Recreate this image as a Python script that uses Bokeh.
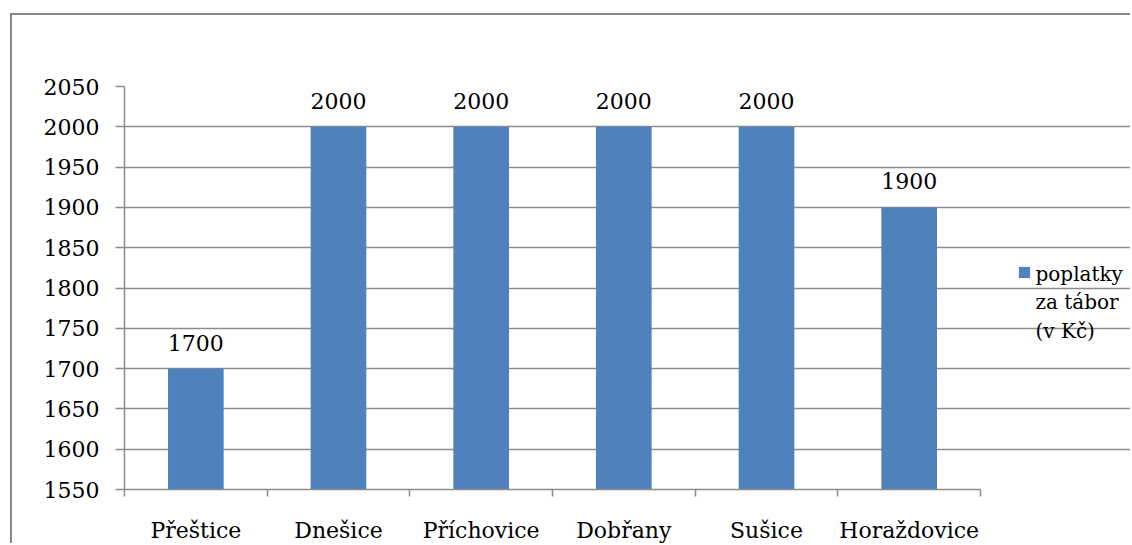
from bokeh.plotting import figure
from bokeh.models import (ColumnDataSource, FixedTicker, Legend, LegendItem, Range1d, Label)
from bokeh.embed import file_html
from bokeh.resources import INLINE
from bokeh.core.properties import value

# ---- data ----
categories = ["Přeštice", "Dnešice", "Příchovice", "Dobřany", "Sušice", "Horaždovice"]
fees = [1700, 2000, 2000, 2000, 2000, 1900]
y_ticks = [1550, 1600, 1650, 1700, 1750, 1800, 1850, 1900, 1950, 2000, 2050]
series_name = "poplatky\nza tábor\n(v Kč)"

FONT = "DejaVu Serif"
FS = "22px"
LEG_FS = "20px"
BAR = "#4F81BD"
GRAY = "#8c8c8c"

W, H = 1120, 530
LEFT, TOP, BOTTOM = 112, 71, 56
PLOT_W = 856  # pixel width of the category area

n = len(categories)
centers = [i + 0.5 for i in range(n)]
bounds = [i for i in range(n + 1)]
src = ColumnDataSource(dict(x=centers, top=fees, label=[str(v) for v in fees]))

x_end = n * (W - LEFT) / PLOT_W
p = figure(width=W, height=H, output_backend="svg", toolbar_location=None,
           x_range=Range1d(0, x_end), y_range=Range1d(y_ticks[0], y_ticks[-1]),
           min_border_left=LEFT, min_border_right=0, min_border_top=TOP,
           min_border_bottom=BOTTOM)
p.outline_line_color = None
p.background_fill_color = "white"
p.border_fill_color = "white"
p.styles = {"margin-left": "10px", "margin-top": "13px",
            "border-left": "2px solid #878787", "border-top": "2px solid #878787"}

bars = p.vbar(x="x", top="top", bottom=y_ticks[0], width=0.39, source=src,
              fill_color=BAR, line_color=None)

p.text(x="x", y="top", text="label", source=src, text_align="center",
       text_baseline="alphabetic", y_offset=-26, text_color="black",
       text_font=value(FONT), text_font_size=FS)

xa = p.xaxis[0]
xa.bounds = (0, n)
xa.ticker = FixedTicker(ticks=centers, minor_ticks=bounds)
xa.major_label_overrides = {c: lab for c, lab in zip(centers, categories)}
xa.major_tick_out = 0
xa.major_tick_in = 0
xa.minor_tick_out = 7
xa.minor_tick_in = 0
xa.minor_tick_line_color = GRAY
xa.minor_tick_line_width = 1.5
xa.axis_line_color = GRAY
xa.axis_line_width = 1.5
xa.major_label_standoff = 21
xa.major_label_text_font = FONT
xa.major_label_text_font_size = FS
xa.major_label_text_color = "black"

ya = p.yaxis[0]
ya.ticker = FixedTicker(ticks=y_ticks, minor_ticks=[])
ya.major_tick_out = 9
ya.major_tick_in = 0
ya.major_tick_line_color = GRAY
ya.major_tick_line_width = 1.5
ya.axis_line_color = GRAY
ya.axis_line_width = 1.5
ya.major_label_standoff = 16
ya.major_label_text_font = FONT
ya.major_label_text_font_size = FS
ya.major_label_text_color = "black"

p.xgrid.grid_line_color = None
p.ygrid.ticker = FixedTicker(ticks=y_ticks)
p.ygrid.bounds = (0, n)
p.ygrid.grid_line_color = GRAY
p.ygrid.grid_line_width = 1.5

# legend swatch, aligned with the first line of the series name
swatch = Legend(items=[LegendItem(label=" ", renderers=[bars])],
                location=(893, 210), glyph_width=14, glyph_height=14,
                label_standoff=0, padding=0, margin=0, spacing=0,
                border_line_alpha=0, background_fill_alpha=0,
                label_text_font=FONT, label_text_font_size=LEG_FS)
p.add_layout(swatch, "center")

# series name (three lines) next to the swatch
name = Label(x=911, y=228, x_units="screen", y_units="screen", text=series_name,
             text_align="left", text_baseline="top", text_font=FONT,
             text_font_size=LEG_FS, text_line_height=1.19, text_color="black")
p.add_layout(name)

open("out.html", "w").write(file_html(p, INLINE))
